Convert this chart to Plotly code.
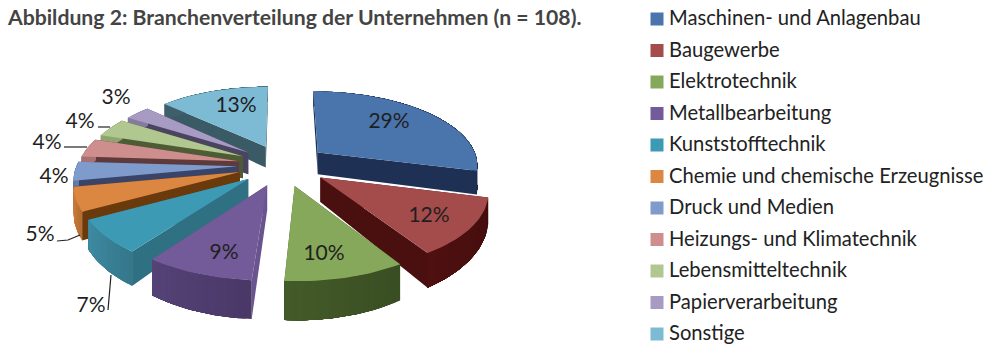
import math
import plotly.graph_objects as go

categories = ["Maschinen- und Anlagenbau", "Baugewerbe", "Elektrotechnik", "Metallbearbeitung",
              "Kunststofftechnik", "Chemie und chemische Erzeugnisse", "Druck und Medien",
              "Heizungs- und Klimatechnik", "Lebensmitteltechnik", "Papierverarbeitung", "Sonstige"]
shares = [29, 12, 10, 9, 7, 5, 4, 4, 4, 3, 13]

top_colors = ["#4A74AC", "#A44B4B", "#86A85A", "#735A98", "#3D9AB5", "#DB8742",
              "#7E9BCB", "#CE8E8E", "#B0C78F", "#A79BC4", "#7DBAD4"]
wall_colors = ["#1E3054", "#4A0F0F", "#3F5526", "#503E70", "#3A8298", "#C67838",
               "#5F7AA8", "#A87070", "#8FA56F", "#857A9F", "#3F5F6B"]
side_colors = ["#1E3054", "#4A0F0F", "#3F5526", "#6A5490", "#2F7083", "#6A3A0C",
               "#3A4468", "#5E3A3A", "#4D5C35", "#4A4460", "#3A5A66"]
label_xy = [(389, 123), (429, 217), (324, 255), (224, 254), (91, 307), (40, 236),
            (54, 178), (47, 144), (80, 123), (116, 99), (236, 107)]
leaders = {4: [(108, 310), (111, 275)], 5: [(57, 241), (68, 240), (80, 235)],
           7: [(64, 147), (87, 147)], 8: [(98, 127), (110, 127)]}
draw_order = [0, 10, 9, 8, 7, 6, 5, 4, 3, 1, 2]

CX, CY, RX, RY, K, E, H = 283, 165, 161, 74, 0.15, 0.28, 23
FONT = "Lato"


def project(X, Z, down=False):
    s = 1 / (1 - K * Z)
    y = CY + RY * Z * s
    if down:
        y += H * s ** 2.5
    return CX + RX * X * s, y


def darker(c, f):
    r, g, b = int(c[1:3], 16), int(c[3:5], 16), int(c[5:7], 16)
    return "#%02X%02X%02X" % (int(min(255, r * f)), int(min(255, g * f)), int(min(255, b * f)))


fig = go.Figure()


def poly(pts, color):
    fig.add_trace(go.Scatter(x=[p[0] for p in pts] + [pts[0][0]], y=[p[1] for p in pts] + [pts[0][1]],
                             mode="lines", fill="toself", fillcolor=color,
                             line=dict(color=color, width=0), hoverinfo="skip", showlegend=False))


total = sum(shares)
starts = [sum(shares[:i]) / total * 2 * math.pi for i in range(len(shares))]
for i in draw_order:
    a0 = starts[i]
    a1 = a0 + shares[i] / total * 2 * math.pi
    mid = (a0 + a1) / 2
    ox, oz = E * math.sin(mid), -E * math.cos(mid)
    n = max(6, shares[i] * 2)
    rim = [(ox + math.sin(a0 + (a1 - a0) * t / n), oz - math.cos(a0 + (a1 - a0) * t / n)) for t in range(n + 1)]
    apex = (ox, oz)
    # radial walls
    for edge in (rim[0], rim[-1]):
        poly([project(*apex), project(*edge), project(*edge, down=True), project(*apex, down=True)], side_colors[i])
    # outer wall: each piece covers the remainder of the wall, so no seams show
    for t in range(n):
        f = 0.92 + 0.16 * t / n if rim[t][1] > 0 else 1.0
        rest = rim[t:]
        poly([project(*p) for p in rest] + [project(*p, down=True) for p in reversed(rest)],
             darker(wall_colors[i], f))
    poly([project(*apex)] + [project(*p) for p in rim], top_colors[i])

# leader lines
for pts in leaders.values():
    fig.add_trace(go.Scatter(x=[p[0] for p in pts], y=[p[1] for p in pts], mode="lines",
                             line=dict(color="#222222", width=1.2), hoverinfo="skip", showlegend=False))

# percent labels
fig.add_trace(go.Scatter(x=[p[0] for p in label_xy], y=[p[1] for p in label_xy], mode="text",
                         text=[f"{v}%" for v in shares], textposition="middle center",
                         textfont=dict(family=FONT, size=21, color="#1F1F1F"),
                         hoverinfo="skip", showlegend=False))

# legend
LEG_Y0, LEG_DY = 19, 31.5
leg_y = [LEG_Y0 + LEG_DY * i for i in range(len(categories))]
fig.add_trace(go.Scatter(x=[657] * len(categories), y=leg_y, mode="markers",
                         marker=dict(symbol="square", size=13, color=top_colors),
                         hoverinfo="skip", showlegend=False))
fig.add_trace(go.Scatter(x=[669] * len(categories), y=[v + 1 for v in leg_y], mode="text", text=categories,
                         textposition="middle right",
                         textfont=dict(family=FONT, size=20.2, color="#222222"),
                         hoverinfo="skip", showlegend=False))

fig.update_layout(
    width=1000, height=357, margin=dict(l=0, r=0, t=0, b=0),
    paper_bgcolor="white", plot_bgcolor="white",
    xaxis=dict(range=[0, 1000], visible=False, fixedrange=True),
    yaxis=dict(range=[357, 0], visible=False, fixedrange=True),
    annotations=[dict(text="<b>Abbildung 2: Branchenverteilung der Unternehmen (n = 108).</b>",
                      x=5, y=17, xref="x", yref="y", xanchor="left", yanchor="middle", showarrow=False,
                      font=dict(family=FONT, size=21.2, color="#444444"))],
)
fig.write_html("out.html", post_script="document.body.style.margin='0';", config=dict(displayModeBar=False))
